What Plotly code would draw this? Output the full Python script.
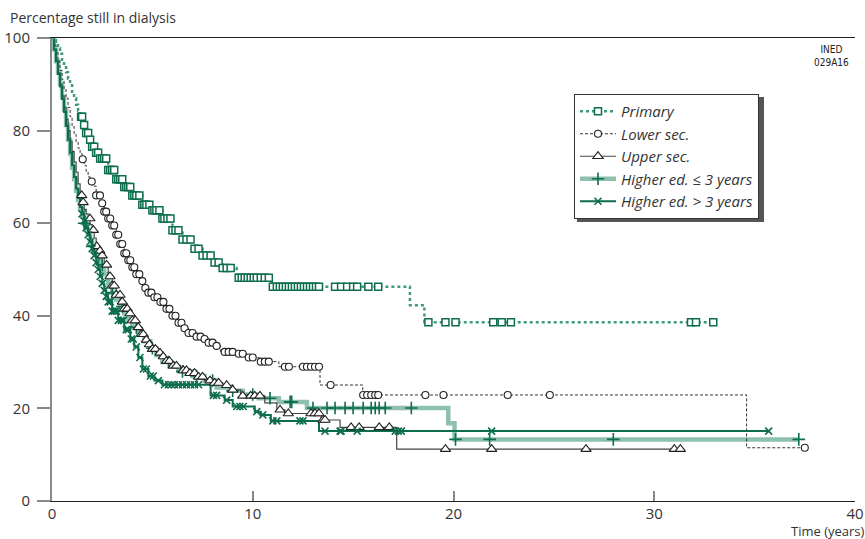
import numpy as np
import plotly.graph_objects as go

# ---------------- data ----------------
series_names = ["Primary", "Lower sec.", "Upper sec.", "Higher ed. \u2264 3 years", "Higher ed. > 3 years"]

primary_t = [0, 0.1, 0.2, 0.3, 0.4, 0.5, 0.6, 0.7, 0.8, 0.9, 1.0, 1.1, 1.2, 1.3, 1.4, 1.55, 1.7, 1.85, 2.0,
             2.2, 2.4, 2.8, 3.2, 3.6, 4.0, 4.5, 5.0, 5.5, 6.0, 6.5, 7.0, 7.5, 8.0, 8.5, 9.2, 10.95, 17.83,
             18.55]
primary_s = [100, 99.5, 98.8, 97.8, 96.6, 95.3, 94, 92.6, 91.2, 89.8, 88.4, 87, 85.6, 84.3, 83, 81.2, 79.5,
             78, 76.5, 75.2, 74, 71.5, 69.5, 67.8, 66, 64, 62.8, 61, 58.5, 56.5, 54.5, 53, 51.5, 50.3, 48.2,
             46.3, 42.3, 38.6]
primary_cens = [1.45, 1.5, 1.6, 1.7, 1.8, 1.9, 2.0, 2.1, 2.2, 2.3, 2.4, 2.5, 2.6, 2.7, 2.8, 2.9, 3.0, 3.1, 3.2,
                3.3, 3.4, 3.5, 3.6, 3.7, 3.8, 3.9, 4.0, 4.1, 4.2, 4.35, 4.5, 4.6, 4.7, 4.85, 5.0, 5.1, 5.2,
                5.35, 5.5, 5.6, 5.75, 5.9, 6.0, 6.15, 6.3, 6.5, 6.7, 6.9, 7.1, 7.3, 7.5, 7.7, 7.9, 8.1, 8.3,
                8.5, 8.7, 8.9, 9.3, 9.45, 9.6, 9.75, 9.9, 10.05, 10.2, 10.4, 10.6, 10.8, 11.0, 11.2, 11.35,
                11.5, 11.65, 11.8, 11.95, 12.1, 12.25, 12.4, 12.55, 12.7, 12.85, 13.0, 13.15, 13.3, 14.1,
                14.4, 14.7, 15.0, 15.2, 15.76, 16.25, 18.75, 19.6, 20.1, 21.98, 22.4, 22.86, 31.83, 32.08,
                32.94]

lower_t = [0, 0.1, 0.2, 0.3, 0.4, 0.5, 0.6, 0.7, 0.8, 0.9, 1.0, 1.1, 1.2, 1.3, 1.4, 1.5, 1.6, 1.7, 1.8, 1.9,
           2.0, 2.2, 2.4, 2.6, 2.8, 3.0, 3.2, 3.4, 3.6, 3.8, 4.0, 4.2, 4.4, 4.6, 4.8, 5.0, 5.3, 5.6, 5.9,
           6.2, 6.5, 6.8, 7.1, 7.5, 7.8, 8.1, 8.4, 9.1, 9.7, 10.3, 11.3, 13.35, 15.48, 34.6]
lower_s = [100, 98.5, 97, 95, 93, 91, 89, 87, 85, 83, 81, 79.2, 77.5, 76.2, 75, 73.8, 72.5, 71.2, 70, 69,
           68, 66, 64.3, 62.5, 61, 59.5, 57.5, 55.5, 53.5, 52, 50.5, 49, 47.5, 46, 45, 44, 43, 41.5, 40,
           38.5, 37.3, 36.3, 35.5, 35, 34.2, 33.5, 32.2, 31.8, 31.0, 30.1, 29.0, 25.05, 22.9, 11.5]
lower_cens = [1.53, 1.98, 2.2, 2.39, 2.5, 2.6, 2.7, 2.8, 2.9, 3.0, 3.1, 3.2, 3.3, 3.4, 3.5, 3.6, 3.7, 3.8,
              3.9, 4.0, 4.1, 4.2, 4.35, 4.5, 4.65, 4.8, 4.95, 5.1, 5.25, 5.4, 5.55, 5.7, 5.85, 6.0, 6.15,
              6.3, 6.45, 6.6, 6.8, 7.0, 7.2, 7.4, 7.6, 7.8, 8.0, 8.2, 8.6, 8.8, 9.0, 9.3, 9.5, 9.8, 10.0,
              10.4, 10.6, 10.8, 11.6, 11.8, 12.5, 12.7, 12.9, 13.1, 13.3, 13.88, 15.5, 15.7, 15.9, 16.1,
              16.25, 18.6, 19.5, 22.7, 24.8, 37.5]

upper_t = [0, 0.1, 0.2, 0.3, 0.4, 0.5, 0.6, 0.7, 0.8, 0.9, 1.0, 1.1, 1.2, 1.3, 1.4, 1.5, 1.6, 1.7, 1.8, 1.9,
           2.0, 2.1, 2.2, 2.3, 2.4, 2.6, 2.8, 3.0, 3.2, 3.4, 3.6, 3.8, 4.0, 4.2, 4.4, 4.6, 4.8, 5.0, 5.2,
           5.4, 5.7, 6.0, 6.4, 6.8, 7.2, 7.6, 8.0, 8.5, 9.0, 9.4, 10.6, 11.2, 11.6, 13.4, 14.35, 17.17]
upper_s = [100, 97.5, 95, 92.5, 90, 87.5, 85, 82.5, 80, 77.7, 75.5, 73.2, 71, 68.5, 66, 64.5, 63, 62, 61,
           59.7, 58.5, 56.8, 55, 54, 53, 51, 48.5, 46.5, 44.5, 43, 41.5, 40.5, 39, 37.5, 36, 34.8, 33.8,
           32.8, 32, 31.2, 30.2, 29.2, 28.2, 27.6, 26.8, 26, 25.5, 25, 24, 22.7, 21.2, 19.7, 18.9, 17.5,
           15.9, 11.2]
upper_cens = [1.48, 1.55, 1.89, 2.06, 2.23, 2.39, 2.5, 2.72, 2.89, 3.0, 3.1, 3.2, 3.39, 3.5, 3.6, 3.75,
              3.89, 4.0, 4.15, 4.3, 4.45, 4.55, 4.7, 4.85, 5.0, 5.15, 5.38, 5.54, 5.7, 5.85, 6.04, 6.2,
              6.54, 6.7, 6.87, 7.1, 7.3, 7.5, 7.87, 8.1, 8.3, 8.7, 9.0, 9.5, 9.9, 10.1, 10.36, 11.36, 11.77,
              12.9, 13.1, 13.3, 13.5, 13.6, 14.9, 15.3, 16.3, 16.8, 19.6, 21.9, 26.6, 31.0, 31.3]

high3_t = [0, 0.1, 0.2, 0.3, 0.4, 0.5, 0.6, 0.7, 0.8, 0.9, 1.0, 1.1, 1.2, 1.3, 1.4, 1.5, 1.6, 1.7, 1.8, 1.9,
           2.0, 2.2, 2.4, 2.6, 2.8, 3.0, 3.2, 3.4, 3.6, 3.8, 4.0, 4.3, 4.6, 4.9, 5.2, 5.5, 5.9, 6.3, 7.0,
           7.6, 8.2, 8.8, 9.5, 10.3, 11.3, 12.7, 19.74, 20.05]
high3_s = [100, 97.5, 95, 92.5, 90, 87.2, 84.5, 81.2, 78, 75, 72, 69.5, 67, 65, 63, 61.5, 60, 58.7, 57.5,
           56.2, 55, 53, 51, 49, 47, 45, 43.5, 42, 40.5, 39, 37.5, 36, 34.5, 33, 31.5, 30, 29, 28, 27, 26,
           24.5, 23.8, 23, 22.2, 21.4, 20.1, 16.8, 13.3]
high3_cens = [1.6, 2.0, 2.5, 3.0, 3.5, 4.2, 5.0, 5.8, 6.5, 7.2, 8.0, 9.0, 10.0, 10.86, 11.86, 11.94, 13.0,
              13.7, 14.1, 14.6, 15.0, 15.5, 15.9, 16.1, 16.3, 16.6, 17.9, 20.1, 21.8, 27.96, 37.2]

high4_t = [0, 0.1, 0.2, 0.3, 0.4, 0.5, 0.6, 0.7, 0.8, 0.9, 1.0, 1.1, 1.2, 1.3, 1.4, 1.5, 1.6, 1.7, 1.8, 1.9,
           2.0, 2.1, 2.2, 2.3, 2.4, 2.5, 2.6, 2.7, 2.8, 3.0, 3.3, 3.6, 3.9, 4.1, 4.3, 4.5, 4.8, 5.1, 5.5,
           7.9, 8.6, 9.0, 10.1, 10.4, 10.9, 13.3]
high4_s = [100, 97.5, 95, 92.2, 89.5, 86.8, 84, 81, 78, 75.2, 72.5, 70, 67.5, 65.5, 63.5, 62, 60.5, 59,
           57.5, 56, 54.5, 53, 51.5, 50, 48.5, 47, 45.5, 44.2, 43, 41, 39, 37, 35, 33.3, 31, 28.5, 27, 26,
           25.1, 22.8, 21.8, 20.4, 19.3, 18.6, 17.3, 15.1]
high4_cens = [1.5, 1.6, 1.7, 1.8, 1.9, 2.0, 2.1, 2.2, 2.3, 2.4, 2.5, 2.6, 2.7, 2.8, 2.9, 3.0, 3.1, 3.2,
              3.3, 3.45, 3.55, 3.7, 3.8, 3.95, 4.05, 4.2, 4.38, 4.55, 4.7, 4.9, 5.05, 5.3, 5.6, 5.8, 5.95,
              6.1, 6.3, 6.5, 6.7, 6.9, 7.1, 7.3, 8.04, 8.2, 8.7, 9.2, 9.36, 9.53, 10.2, 10.5, 11.0, 11.2,
              12.35, 12.5, 13.6, 14.35, 14.4, 15.2, 17.1, 17.25, 17.4, 21.9, 35.7]

x_ticks = [0, 10, 20, 30, 40]
y_ticks = [0, 20, 40, 60, 80, 100]

# ---------------- styles ----------------
DARK = "#0c6d4f"
MID = "#3f9a7a"
LIGHT = "#8ec1ac"
FONT = "Open Sans"
TXT = "#333333"


def step_path(times, surv, cens):
    xs, ys = list(times), list(surv)
    end = max(cens) if cens else xs[-1]
    if end > xs[-1]:
        xs.append(end)
        ys.append(ys[-1])
    return xs, ys


def surv_at(times, surv, ts):
    idx = np.searchsorted(np.asarray(times), np.asarray(ts), side="right") - 1
    return list(np.asarray(surv)[idx])


specs = [
    (high3_t, high3_s, high3_cens, dict(color=LIGHT, width=4.5),
     dict(symbol="cross-thin-open", size=9, color=DARK, line=dict(color=DARK, width=1.6))),
    (upper_t, upper_s, upper_cens, dict(color="#444444", width=1.2),
     dict(symbol="triangle-up", size=9, color="white", line=dict(color="#222222", width=1.1))),
    (lower_t, lower_s, lower_cens, dict(color="#333333", width=1, dash="3px,2px"),
     dict(symbol="circle", size=7, color="white", line=dict(color="#222222", width=1.1))),
    (high4_t, high4_s, high4_cens, dict(color=DARK, width=2),
     dict(symbol="x-thin-open", size=7, color=DARK, line=dict(color=DARK, width=1.6))),
    (primary_t, primary_s, primary_cens, dict(color=MID, width=2.5, dash="dot"),
     dict(symbol="square", size=7, color="white", line=dict(color=DARK, width=1.5))),
]
legend_idx = {0: 3, 1: 2, 2: 1, 3: 4, 4: 0}

fig = go.Figure()
for t, s, c, ln, mk in specs:
    xs, ys = step_path(t, s, c)
    fig.add_trace(go.Scatter(x=xs, y=ys, mode="lines", line=dict(shape="hv", **ln),
                             showlegend=False, hoverinfo="skip"))
for t, s, c, ln, mk in specs:
    fig.add_trace(go.Scatter(x=c, y=surv_at(t, s, c), mode="markers", marker=mk,
                             showlegend=False, hoverinfo="skip"))

order = sorted(range(len(specs)), key=lambda i: legend_idx[i])
for i in order:
    t, s, c, ln, mk = specs[i]
    fig.add_trace(go.Scatter(x=[None], y=[None], mode="lines+markers", name=series_names[legend_idx[i]],
                             line=ln, marker=mk, showlegend=True))

PL, PR, PT, PB = 52, 855, 38, 501
W, H = PR - PL, PB - PT


def px2paper(xp, yp):
    return (xp - PL) / W, (PB - yp) / H


# legend box (pixels): left 574, top 94, approx width 187, height 125
LEG_L, LEG_T, LEG_W, LEG_H = 574, 94, 187, 125
lx0, ly0 = px2paper(LEG_L, LEG_T)
sx0, sy0 = px2paper(LEG_L + 3, LEG_T + 3)
sx1, sy1 = px2paper(LEG_L + LEG_W + 3, LEG_T + LEG_H + 3)

fig.update_layout(
    width=865, height=539,
    margin=dict(l=PL, r=865 - PR, t=PT, b=539 - PB, autoexpand=False),
    paper_bgcolor="white", plot_bgcolor="white",
    font=dict(family=FONT, size=14, color=TXT),
    xaxis=dict(range=[0, 40], tickvals=x_ticks, ticks="inside", ticklen=10, tickwidth=1.5,
               tickcolor="#888888", showgrid=False, zeroline=False, showline=True, linecolor="#222222",
               linewidth=1.2, mirror=True, tickfont=dict(size=15, color=TXT), automargin=False,
               ticklabelstandoff=-1),
    yaxis=dict(range=[0, 100], tickvals=y_ticks, ticks="outside", ticklen=13, tickwidth=1.5,
               tickcolor="#888888", showgrid=False, zeroline=False, showline=True, linecolor="#8a8a8a",
               linewidth=2, tickfont=dict(size=15, color=TXT), ticklabelstandoff=4, automargin=False),
    yaxis2=dict(range=[0, 100], overlaying="y", side="right", tickvals=y_ticks[1:-1], ticks="inside",
                ticklen=12, tickwidth=1.5, tickcolor="#888888", showticklabels=False, showgrid=False,
                zeroline=False, showline=True, linecolor="#222222", linewidth=1.2, automargin=False),
    showlegend=True,
    legend=dict(x=lx0, y=ly0, xanchor="left", yanchor="top", bgcolor="white", bordercolor="#333333",
                borderwidth=1, font=dict(size=15, style="italic", color=TXT), itemwidth=36,
                tracegroupgap=0),
    shapes=[dict(type="rect", xref="paper", yref="paper", x0=sx0, y0=sy1, x1=sx1, y1=sy0,
                 fillcolor="#555555", line=dict(width=0), layer="above")],
    annotations=[
        dict(text="Percentage still in dialysis", xref="paper", yref="paper", x=(8 - PL) / W,
             y=(PB - 18) / H, xanchor="left", yanchor="middle", showarrow=False,
             font=dict(size=14, color=TXT)),
        dict(text="Time (years)", xref="paper", yref="paper", x=(866 - PL) / W, y=(PB - 531) / H,
             xanchor="right", yanchor="middle", showarrow=False, font=dict(size=13, color=TXT),
             borderpad=0),
        dict(text="INED<br>029A16", xref="paper", yref="paper", x=(831 - PL) / W, y=(PB - 56) / H,
             xanchor="center", yanchor="middle", showarrow=False, align="center",
             font=dict(size=10, color="#222222",
                       family="Liberation Sans Narrow, DejaVu Sans Condensed, sans-serif")),
    ],
)

fig.write_html("out.html")
